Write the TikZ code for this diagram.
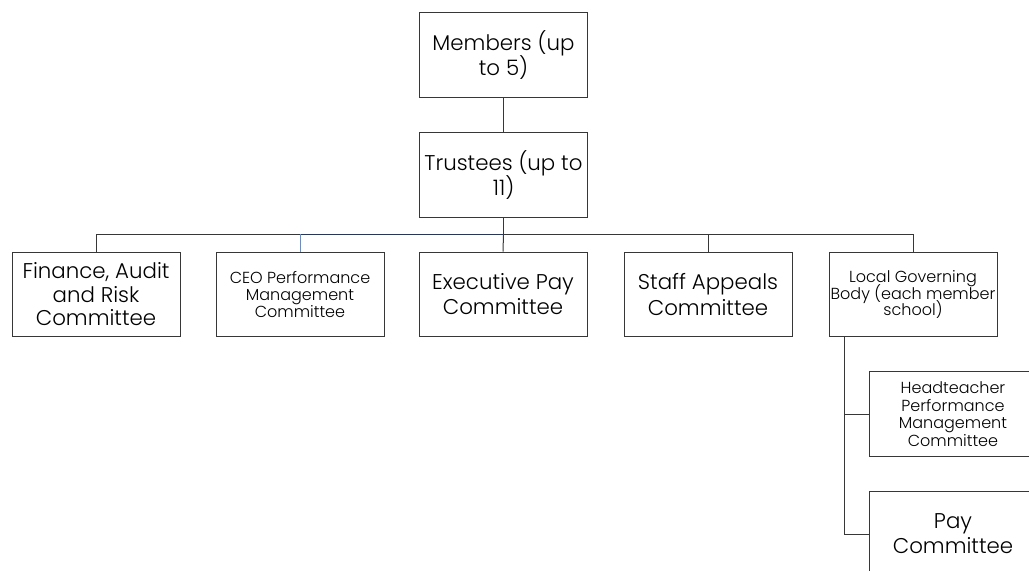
\documentclass[tikz,border=0pt]{standalone}
\usepackage{fontspec}
\setmainfont{Poppins Light}
\usepackage{tikz}
\usetikzlibrary{positioning}
\definecolor{linegray}{RGB}{55,55,55}
\definecolor{linkblue}{RGB}{110,140,190}
\definecolor{linknavy}{RGB}{40,55,85}
\newcommand{\tightlines}{\lineskiplimit=-20pt\relax}

\begin{document}
\begin{tikzpicture}[x=0.75pt, y=-0.75pt,
  box/.style={draw=linegray, line width=0.75pt, minimum width=126pt, minimum height=63.5pt, align=center, inner sep=1pt},
  big/.style={font=\fontsize{16}{18.8}\selectfont\tightlines},
  small/.style={font=\fontsize{12}{12.4}\selectfont\tightlines},
  link/.style={draw=linegray, line width=0.75pt}]
  \useasboundingbox (0,0) rectangle (1029,571);
  \clip (0,0) rectangle (1029,571);
  %--- Nodes
    \node[box, big] (MB) at (503.5,55) {Members (up\\to 5)};
    \node[box, big] (TR) at (503.5,175) {Trustees (up to\\11)};
    \node[box, font=\fontsize{16}{17.6}\selectfont\tightlines] (FA) at (96,294.5) {Finance, Audit\\and Risk\\Committee};
    \node[box, small] (CE) at (300,294.5) {CEO Performance\\Management\\Committee};
    \node[box, big] (EP) at (503,294.5) {Executive Pay\\Committee};
    \node[box, big] (SA) at (708,294.5) {Staff Appeals\\Committee};
    \node[box, small] (LG) at (913,294.5) {Local Governing\\Body (each member\\school)};
    \node[box, font=\fontsize{12}{13.1}\selectfont\tightlines] (HT) at (953,414) {Headteacher\\Performance\\Management\\Committee};
    \node[box, big] (PC) at (953,534) {Pay\\Committee};
    \coordinate (BUS) at (503.5,234);
  %--- Links
    \draw[link] (MB) -- (TR);
    \draw[link] (TR) -- (BUS);
    \draw[link] (BUS) -| (FA.north);
    \draw[link, draw=linknavy] (BUS) -- (BUS -| CE.north);
    \draw[link, draw=linkblue] (BUS -| CE.north) -- (CE.north);
    \draw[link] (BUS) -- (EP.north);
    \draw[link] (BUS) -| (SA.north);
    \draw[link] (BUS) -| (LG.north);
    \draw[link] ([xshift=12pt]LG.south west) |- (HT.west);
    \draw[link] ([xshift=12pt]LG.south west) |- (PC.west);
  %---
\end{tikzpicture}
\end{document}
